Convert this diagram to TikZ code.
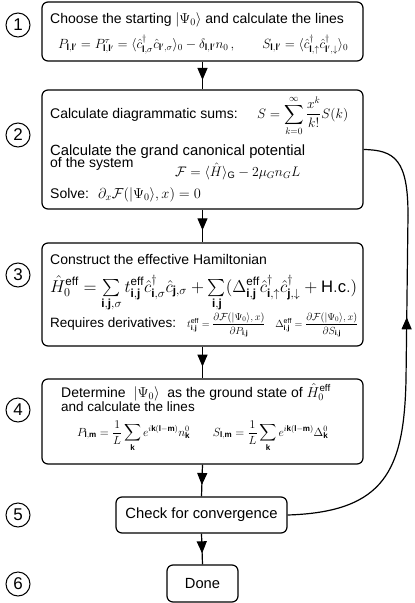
\documentclass[tikz,border=0pt]{standalone}
\usepackage{amsmath}
\usepackage{fontspec}
\setmainfont{Liberation Sans}
\usetikzlibrary{arrows.meta,decorations.markings}
\tikzset{
  box/.style={draw, rounded corners=6pt, line width=1.2pt, inner sep=0pt},
  txt/.style={anchor=base west, inner sep=0pt, font=\fontsize{14}{16}\selectfont},
  num/.style={draw, circle, line width=1pt, minimum size=24pt, inner sep=0pt, font=\fontsize{17}{19}\selectfont},
  conn/.style={line width=1.2pt},
  midarrow/.style={decoration={markings, mark=at position #1 with {\arrow{Triangle[length=12pt,width=10pt]}}}, postaction=decorate},
}
\begin{document}
\begin{tikzpicture}[x=1pt,y=-1pt]
\useasboundingbox (0,0) rectangle (415,603);
% boxes
\node[box, minimum width=321pt, minimum height=59pt] (b1) at (202.5,31.5) {};
\node[box, minimum width=321pt, minimum height=119pt] (b2) at (202.5,149.5) {};
\node[box, minimum width=321pt, minimum height=103pt] (b3) at (202.5,294.5) {};
\node[box, minimum width=321pt, minimum height=85pt] (b4) at (202.5,421.5) {};
\node[box, minimum width=171pt, minimum height=36pt, font=\fontsize{14.8}{16}\selectfont] (b5) at (201.5,515) {Check for convergence};
\node[box, minimum width=71pt, minimum height=37pt, font=\fontsize{14.7}{16}\selectfont] (b6) at (202.5,583.5) {Done};
% step numbers
\node[num] (n1) at (18,25) {1};
\node[num] (n2) at (18,135) {2};
\node[num] (n3) at (18,275) {3};
\node[num] (n4) at (18,410) {4};
\node[num] (n5) at (18,515) {5};
\node[num] (n6) at (18,584) {6};
% box 1
\node[txt] (t1a) at (50,23) {Choose the starting $|\Psi_0\rangle$ and calculate the lines};
\node[txt] (t1b) at (58,48) {\resizebox{290pt}{!}{$P_{\mathbf{l},\mathbf{l}'}=P^{\tau}_{\mathbf{l},\mathbf{l}'}=\langle\hat c^{\dagger}_{\mathbf{l},\sigma}\hat c_{\mathbf{l}',\sigma}\rangle_0-\delta_{\mathbf{l},\mathbf{l}'}n_0\,,\qquad S_{\mathbf{l},\mathbf{l}'}=\langle\hat c^{\dagger}_{\mathbf{l},\uparrow}\hat c^{\dagger}_{\mathbf{l}',\downarrow}\rangle_0$}};
% box 2
\node[txt] (t2a) at (50,118) {Calculate diagrammatic sums:};
\node[txt] (t2b) at (257,118) {\resizebox{91pt}{!}{$S=\displaystyle\sum_{k=0}^{\infty}\frac{x^k}{k!}S(k)$}};
\node[txt, font=\fontsize{14.8}{16}\selectfont] (t2c) at (50,155) {Calculate the grand canonical potential};
\node[txt] (t2d) at (50,167) {of the system};
\node[txt] (t2e) at (175,176) {\resizebox{125pt}{!}{$\mathcal{F}=\langle\hat H\rangle_{\mathrm{G}}-2\mu_G n_G L$}};
\node[txt] (t2f) at (50,198) {Solve:~ $\partial_x\mathcal{F}(|\Psi_0\rangle,x)=0$};
% box 3
\node[txt] (t3a) at (50,264) {Construct the effective Hamiltonian};
\node[txt] (t3b) at (50,292) {\resizebox{307pt}{!}{$\hat H_0^{\mathrm{eff}}=\sum\limits_{\mathbf{i},\mathbf{j},\sigma}t^{\mathrm{eff}}_{\mathbf{i},\mathbf{j}}\hat c^{\dagger}_{\mathbf{i},\sigma}\hat c_{\mathbf{j},\sigma}+\sum\limits_{\mathbf{i},\mathbf{j}}(\Delta^{\mathrm{eff}}_{\mathbf{i},\mathbf{j}}\hat c^{\dagger}_{\mathbf{i},\uparrow}\hat c^{\dagger}_{\mathbf{j},\downarrow}+\mathrm{H.c.})$}};
\node[txt, font=\fontsize{13.5}{15}\selectfont] (t3c) at (50,327) {Requires derivatives:};
\node[txt] (t3d) at (187,327) {\resizebox{171pt}{!}{$t^{\mathrm{eff}}_{\mathbf{i},\mathbf{j}}=\dfrac{\partial\mathcal{F}(|\Psi_0\rangle,x)}{\partial P_{\mathbf{i},\mathbf{j}}}\quad\Delta^{\mathrm{eff}}_{\mathbf{i},\mathbf{j}}=\dfrac{\partial\mathcal{F}(|\Psi_0\rangle,x)}{\partial S_{\mathbf{i},\mathbf{j}}}$}};
% box 4
\node[txt] (t4a) at (61,397) {Determine~ $|\Psi_0\rangle$~ as the ground state of $\hat H_0^{\mathrm{eff}}$};
\node[txt, font=\fontsize{13.5}{15}\selectfont] (t4b) at (61,411) {and calculate the lines};
\node[txt] (t4c) at (77,436) {\resizebox{251pt}{!}{$P_{\mathbf{l},\mathbf{m}}=\dfrac{1}{L}\displaystyle\sum_{\mathbf{k}}e^{i\mathbf{k}(\mathbf{l}-\mathbf{m})}n^0_{\mathbf{k}}\qquad S_{\mathbf{l},\mathbf{m}}=\dfrac{1}{L}\displaystyle\sum_{\mathbf{k}}e^{i\mathbf{k}(\mathbf{l}-\mathbf{m})}\Delta^0_{\mathbf{k}}$}};
% connectors
\draw[conn, midarrow=0.66] (b1.south) -- (b2.north);
\draw[conn, midarrow=0.63] (b2.south) -- (b3.north);
\draw[conn, midarrow=0.63] (b3.south) -- (b4.north);
\draw[conn, midarrow=0.64] (b4.south) -- (b5.north);
\draw[conn, midarrow=0.64] (b5.south) -- (b6.north);
% feedback loop
\coordinate (fa) at (406,380);
\coordinate (fb) at (408,215);
\draw[conn] (b5.east) .. controls (385,512) and (404,470) .. (fa);
\draw[conn, midarrow=0.38] (fa) -- (fb);
\draw[conn] (fb) .. controls (408,160) and (395,150) .. (b2.east);
\end{tikzpicture}
\end{document}
